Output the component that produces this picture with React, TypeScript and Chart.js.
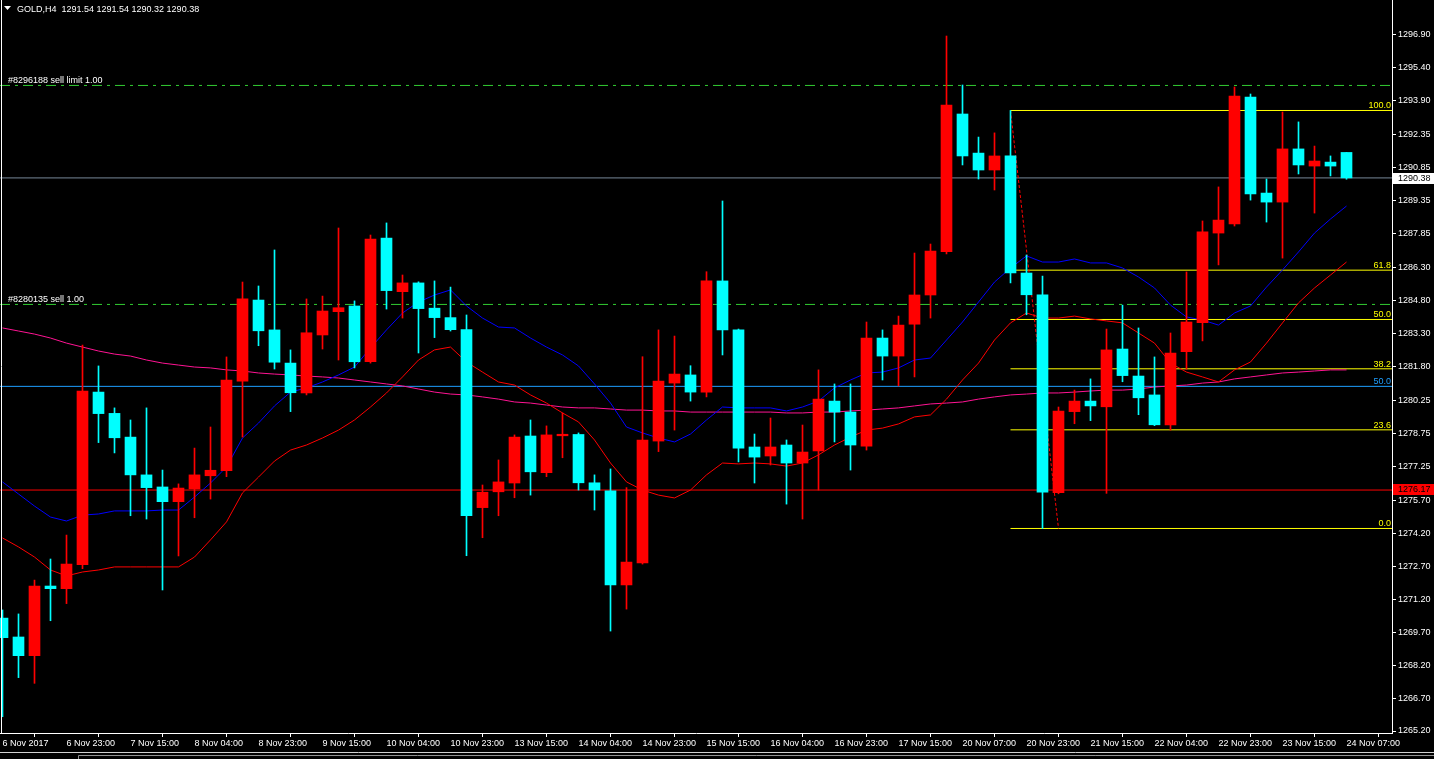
import React, { useEffect, useRef } from 'react';
import { Chart, registerables } from 'chart.js';

Chart.register(...registerables);

const W = 1434;
const H = 759;
const FONT = '"Liberation Sans", Arial, sans-serif';

const headerText = 'GOLD,H4  1291.54 1291.54 1290.32 1290.38';

const xTickLabels = [
  '6 Nov 2017', '6 Nov 23:00', '7 Nov 15:00', '8 Nov 04:00', '8 Nov 23:00', '9 Nov 15:00',
  '10 Nov 04:00', '10 Nov 23:00', '13 Nov 15:00', '14 Nov 04:00', '14 Nov 23:00', '15 Nov 15:00',
  '16 Nov 04:00', '16 Nov 23:00', '17 Nov 15:00', '20 Nov 07:00', '20 Nov 23:00', '21 Nov 15:00',
  '22 Nov 04:00', '22 Nov 23:00', '23 Nov 15:00', '24 Nov 07:00',
];
const barsPerLabel = 4;

const yTickValues = [
  1296.90, 1295.40, 1293.90, 1292.35, 1290.85, 1289.35, 1287.85, 1286.30, 1284.80, 1283.30, 1281.80,
  1280.25, 1278.75, 1277.25, 1275.70, 1274.20, 1272.70, 1271.20, 1269.70, 1268.20, 1266.70, 1265.20,
];

const opens = [
  1270.34, 1269.48, 1268.63, 1271.80, 1271.68, 1272.77, 1280.63, 1279.66, 1278.58, 1276.86,
  1276.31, 1275.64, 1276.22, 1276.82, 1277.05, 1281.13, 1284.82, 1283.46, 1281.95, 1280.59,
  1283.23, 1284.29, 1284.55, 1282.01, 1287.64, 1285.20, 1285.60, 1284.45, 1284.02, 1283.47,
  1275.37, 1276.09, 1276.49, 1278.63, 1276.96, 1278.64, 1278.70, 1276.50, 1276.13, 1271.85,
  1272.85, 1278.40, 1281.04, 1281.41, 1280.63, 1285.69, 1283.46, 1278.13, 1277.72, 1278.22,
  1277.40, 1277.95, 1280.22, 1279.72, 1278.17, 1283.09, 1282.27, 1283.72, 1285.05, 1287.02,
  1293.29, 1291.51, 1290.74, 1291.38, 1286.05, 1285.06, 1276.05, 1279.74, 1280.22, 1279.96,
  1282.59, 1281.36, 1280.50, 1279.14, 1282.47, 1283.79, 1287.87, 1288.28, 1294.06, 1289.69,
  1289.28, 1291.70, 1290.92, 1291.10, 1291.54,
];
const highs = [
  1270.71, 1270.53, 1272.07, 1273.03, 1274.12, 1282.77, 1281.82, 1279.91, 1279.36, 1279.91,
  1277.08, 1276.45, 1278.08, 1279.04, 1282.23, 1285.64, 1285.46, 1287.10, 1282.55, 1284.87,
  1285.00, 1288.10, 1284.78, 1287.78, 1288.33, 1285.96, 1285.65, 1285.69, 1285.41, 1284.14,
  1276.40, 1277.54, 1278.68, 1279.36, 1279.09, 1279.68, 1278.77, 1276.86, 1277.13, 1276.28,
  1282.24, 1283.46, 1283.18, 1281.83, 1286.11, 1289.33, 1283.50, 1278.72, 1279.45, 1278.45,
  1279.13, 1281.64, 1281.00, 1281.00, 1283.82, 1283.46, 1284.09, 1286.96, 1287.37, 1296.84,
  1294.61, 1292.24, 1292.43, 1293.45, 1286.87, 1285.91, 1279.95, 1280.72, 1281.23, 1283.50,
  1284.59, 1283.55, 1282.23, 1283.32, 1286.10, 1288.42, 1289.97, 1294.52, 1294.20, 1290.33,
  1293.38, 1292.93, 1291.83, 1291.38, 1291.54,
];
const lows = [
  1265.85, 1267.63, 1267.37, 1270.22, 1271.00, 1272.59, 1278.33, 1277.86, 1275.00, 1274.85,
  1271.62, 1273.17, 1274.91, 1275.76, 1276.78, 1278.58, 1282.74, 1281.68, 1279.74, 1280.50,
  1282.59, 1282.09, 1281.73, 1281.95, 1284.41, 1284.00, 1282.41, 1283.11, 1283.41, 1273.18,
  1274.00, 1275.00, 1275.82, 1275.94, 1276.78, 1277.64, 1276.17, 1275.26, 1269.75, 1270.75,
  1272.80, 1277.92, 1278.90, 1280.22, 1280.41, 1282.32, 1277.45, 1276.49, 1277.31, 1275.53,
  1274.85, 1276.17, 1278.36, 1277.08, 1277.99, 1281.18, 1280.91, 1281.32, 1284.00, 1286.92,
  1290.97, 1290.33, 1289.83, 1285.60, 1284.15, 1274.42, 1276.00, 1279.19, 1279.33, 1276.02,
  1281.10, 1279.60, 1279.10, 1278.90, 1281.67, 1282.96, 1286.42, 1288.19, 1289.37, 1288.37,
  1286.73, 1290.56, 1288.78, 1290.47, 1290.32,
];
const closes = [
  1269.45, 1268.63, 1271.80, 1271.68, 1272.80, 1280.68, 1279.65, 1278.55, 1276.86, 1276.28,
  1275.64, 1276.26, 1276.86, 1277.07, 1281.18, 1284.87, 1283.42, 1281.99, 1280.60, 1283.33,
  1284.32, 1284.47, 1282.01, 1287.60, 1285.25, 1285.60, 1284.43, 1284.02, 1283.47, 1275.00,
  1276.07, 1276.54, 1278.58, 1277.00, 1278.68, 1278.71, 1276.50, 1276.17, 1271.85, 1272.89,
  1278.45, 1281.13, 1281.45, 1280.63, 1285.69, 1283.46, 1278.08, 1277.67, 1278.13, 1277.40,
  1277.90, 1280.31, 1279.72, 1278.22, 1283.09, 1282.27, 1283.68, 1285.05, 1287.05, 1293.70,
  1291.38, 1290.74, 1291.38, 1286.05, 1285.06, 1276.07, 1279.77, 1280.22, 1280.00, 1282.55,
  1281.38, 1280.37, 1279.14, 1282.41, 1283.82, 1287.92, 1288.46, 1294.11, 1289.65, 1289.28,
  1291.70, 1290.97, 1291.15, 1290.92, 1290.38,
];

const maFast = [
  1276.54, 1275.99, 1275.44, 1274.94, 1274.76, 1275.03, 1275.08, 1275.22, 1275.22, 1275.22,
  1275.26, 1275.26, 1275.85, 1276.49, 1277.22, 1278.54, 1279.22, 1280.00, 1280.63, 1280.82,
  1281.09, 1281.41, 1281.77, 1282.64, 1283.46, 1284.23, 1284.73, 1285.05, 1285.28, 1284.55,
  1284.00, 1283.59, 1283.55, 1283.09, 1282.68, 1282.32, 1281.82, 1281.00, 1280.13, 1279.04,
  1278.77, 1278.54, 1278.36, 1278.72, 1279.36, 1279.95, 1279.91, 1279.91, 1279.91, 1279.77,
  1279.95, 1280.22, 1280.82, 1281.18, 1281.50, 1281.54, 1281.73, 1282.09, 1282.18, 1283.00,
  1283.82, 1284.73, 1285.64, 1286.28, 1286.83, 1286.55, 1286.55, 1286.69, 1286.51, 1286.51,
  1286.28, 1285.87, 1285.37, 1284.59, 1284.05, 1283.91, 1283.68, 1284.23, 1284.55, 1285.41,
  1286.19, 1287.01, 1287.87, 1288.51, 1289.10,
];
const maMid = [
  1273.99, 1273.58, 1273.12, 1272.53, 1272.26, 1272.44, 1272.53, 1272.67, 1272.67, 1272.67,
  1272.67, 1272.67, 1273.12, 1273.90, 1274.72, 1276.04, 1276.76, 1277.49, 1277.99, 1278.22,
  1278.54, 1278.90, 1279.36, 1279.95, 1280.59, 1281.32, 1282.09, 1282.55, 1282.68, 1282.00,
  1281.54, 1281.09, 1280.95, 1280.50, 1280.13, 1279.68, 1279.27, 1278.45, 1277.40, 1276.54,
  1276.17, 1275.94, 1275.81, 1276.17, 1276.86, 1277.40, 1277.36, 1277.40, 1277.36, 1277.26,
  1277.40, 1277.77, 1278.22, 1278.58, 1278.90, 1278.99, 1279.18, 1279.50, 1279.59, 1280.31,
  1281.18, 1281.95, 1283.00, 1283.78, 1284.23, 1284.00, 1284.00, 1284.09, 1283.96, 1283.87,
  1283.78, 1283.32, 1282.86, 1281.95, 1281.54, 1281.32, 1281.09, 1281.64, 1282.00, 1282.86,
  1283.78, 1284.69, 1285.37, 1285.96, 1286.55,
];
const maSlow = [
  1283.55, 1283.41, 1283.27, 1283.09, 1282.86, 1282.68, 1282.50, 1282.36, 1282.27, 1282.09,
  1281.95, 1281.86, 1281.77, 1281.73, 1281.64, 1281.59, 1281.50, 1281.45, 1281.41, 1281.36,
  1281.32, 1281.27, 1281.18, 1281.09, 1281.00, 1280.91, 1280.77, 1280.63, 1280.54, 1280.50,
  1280.41, 1280.31, 1280.18, 1280.13, 1280.04, 1279.95, 1279.91, 1279.91, 1279.86, 1279.81,
  1279.81, 1279.77, 1279.77, 1279.72, 1279.72, 1279.72, 1279.72, 1279.72, 1279.72, 1279.68,
  1279.68, 1279.72, 1279.72, 1279.77, 1279.81, 1279.86, 1279.91, 1280.00, 1280.09, 1280.13,
  1280.18, 1280.31, 1280.41, 1280.50, 1280.54, 1280.59, 1280.59, 1280.63, 1280.68, 1280.72,
  1280.72, 1280.77, 1280.86, 1280.91, 1280.95, 1281.04, 1281.09, 1281.23, 1281.32, 1281.41,
  1281.50, 1281.54, 1281.59, 1281.64, 1281.64,
];

const orderLabels = ['#8296188 sell limit 1.00', '#8280135 sell 1.00'];
const orderPrices = [1294.59, 1284.62];

const fibLabels = ['100.0', '61.8', '50.0', '38.2', '23.6', '0.0'];
const fibRatios = [1, 0.618, 0.5, 0.382, 0.236, 0];
const fibHigh = 1293.45;
const fibLow = 1274.42;
const fibStartBar = 63;
const fibEndBar = 66;

const extraLevelLabel = '50.0';
const extraLevelPrice = 1280.89;
const alertLinePrice = 1276.17;
const bidPrice = 1290.38;

const X_MIN = -0.15625;
const X_MAX = 86.84375;
const Y_MIN = 1265.109;
const Y_MAX = 1298.48;

const C_UP = '#ff0000';
const C_DOWN = '#00ffff';
const C_ORDER = '#32cd32';
const C_FIB = '#ffff00';
const C_LEVEL = '#1e9fff';
const C_BID = '#778899';

const fibPrice = (k: number) => fibLow + fibRatios[k] * (fibHigh - fibLow);

const hLine = (price: number, color: string, from = X_MIN, dash: number[] = []) => ({
  type: 'line' as const,
  data: [{ x: from, y: price }, { x: X_MAX, y: price }],
  borderColor: color,
  borderWidth: 1,
  borderDash: dash,
  pointRadius: 0,
  order: 4,
});

const decorPlugin = {
  id: 'mt4Decor',
  beforeDraw(chart: any) {
    const { ctx } = chart;
    ctx.save();
    ctx.fillStyle = '#000';
    ctx.fillRect(0, 0, chart.width, chart.height);
    ctx.restore();
  },
  afterDraw(chart: any) {
    const { ctx, chartArea: a, scales } = chart;
    const y = scales.y;
    ctx.save();
    ctx.strokeStyle = '#fff';
    ctx.lineWidth = 1;
    ctx.beginPath();
    ctx.moveTo(a.left + 1.5, a.top);
    ctx.lineTo(a.left + 1.5, a.bottom);
    ctx.stroke();

    // bottom strip
    ctx.strokeStyle = '#d0d0d0';
    ctx.beginPath();
    ctx.moveTo(0, 752.5);
    ctx.lineTo(W, 752.5);
    ctx.stroke();
    ctx.strokeStyle = '#909090';
    ctx.beginPath();
    ctx.moveTo(78.5, 759);
    ctx.lineTo(78.5, 755.5);
    ctx.lineTo(W, 755.5);
    ctx.stroke();

    ctx.font = `9px ${FONT}`;
    ctx.textBaseline = 'alphabetic';
    ctx.textAlign = 'left';

    // header
    ctx.fillStyle = '#fff';
    ctx.beginPath();
    ctx.moveTo(4, 6);
    ctx.lineTo(11, 6);
    ctx.lineTo(7.5, 10);
    ctx.closePath();
    ctx.fill();
    ctx.fillText(headerText, 17, 11.5);

    // order labels
    orderLabels.forEach((t, k) => {
      const py = y.getPixelForValue(orderPrices[k]);
      ctx.fillText(t, 8, py - 2);
    });

    // fib labels
    ctx.textAlign = 'right';
    ctx.fillStyle = C_FIB;
    fibLabels.forEach((t, k) => {
      const py = y.getPixelForValue(fibPrice(k));
      ctx.fillText(t, a.right - 1, py - 2);
    });
    ctx.fillStyle = C_LEVEL;
    ctx.fillText(extraLevelLabel, a.right - 1, y.getPixelForValue(extraLevelPrice) - 2);

    // price boxes on axis
    ctx.textAlign = 'left';
    ctx.textBaseline = 'middle';
    const bidY = Math.round(y.getPixelForValue(bidPrice));
    ctx.fillStyle = '#fff';
    ctx.fillRect(a.right + 1, bidY - 5, W - a.right - 1, 11);
    ctx.fillStyle = '#000';
    ctx.fillText(bidPrice.toFixed(2), a.right + 6, bidY + 0.5);
    const alY = Math.round(y.getPixelForValue(alertLinePrice));
    ctx.fillStyle = '#ff0000';
    ctx.fillRect(a.right + 1, alY - 6, W - a.right - 1, 11);
    ctx.fillStyle = '#000';
    ctx.fillText(alertLinePrice.toFixed(2), a.right + 6, alY - 0.5);
    ctx.restore();
  },
};

export default function App() {
  const ref = useRef<HTMLCanvasElement>(null);

  useEffect(() => {
    document.body.style.margin = '0';
    document.body.style.background = '#000';
    const idx = opens.map((_, i) => i);
    const colors = idx.map((i) => (closes[i] >= opens[i] ? C_UP : C_DOWN));
    const xTickIdx = xTickLabels.map((_, k) => k * barsPerLabel);

    const datasets: any[] = [
      {
        type: 'bar',
        data: idx.map((i) => ({ x: i, y: [Math.min(opens[i], closes[i]), Math.max(opens[i], closes[i])] })),
        backgroundColor: colors,
        borderWidth: 0,
        grouped: false,
        barThickness: 11,
        maxBarThickness: 11,
        minBarLength: 1,
        order: 0,
      },
      {
        type: 'bar',
        data: idx.map((i) => ({ x: i, y: [lows[i], highs[i]] })),
        backgroundColor: colors,
        borderWidth: 0,
        grouped: false,
        barThickness: 1,
        maxBarThickness: 1,
        minBarLength: 1,
        order: 1,
      },
      { type: 'line', data: idx.map((i) => ({ x: i, y: maFast[i] })), borderColor: '#0000ff', borderWidth: 1, pointRadius: 0, order: 2 },
      { type: 'line', data: idx.map((i) => ({ x: i, y: maMid[i] })), borderColor: '#ff0000', borderWidth: 1, pointRadius: 0, order: 2 },
      { type: 'line', data: idx.map((i) => ({ x: i, y: maSlow[i] })), borderColor: '#ff1493', borderWidth: 1, pointRadius: 0, order: 2 },
      hLine(bidPrice, C_BID),
      hLine(alertLinePrice, '#ff0000'),
      hLine(extraLevelPrice, C_LEVEL),
      ...orderPrices.map((p) => hLine(p, C_ORDER, X_MIN, [10, 5, 3, 5])),
      ...fibRatios.map((_, k) => hLine(fibPrice(k), C_FIB, fibStartBar)),
      {
        type: 'line',
        data: [{ x: fibStartBar, y: fibHigh }, { x: fibEndBar, y: fibLow }],
        borderColor: '#ff0000',
        borderWidth: 1,
        borderDash: [3, 2],
        pointRadius: 0,
        order: 3,
      },
    ];

    const chart = new Chart(ref.current as HTMLCanvasElement, {
      type: 'bar',
      data: { datasets },
      options: {
        animation: false,
        responsive: false,
        devicePixelRatio: 1,
        events: [],
        layout: { padding: 0 },
        plugins: { legend: { display: false }, tooltip: { enabled: false } },
        scales: {
          x: {
            type: 'linear',
            min: X_MIN,
            max: X_MAX,
            offset: false,
            position: 'bottom',
            grid: { display: true, drawOnChartArea: false, drawTicks: true, tickLength: 4, color: '#fff', tickColor: '#fff' },
            border: { display: true, color: '#fff', width: 1 },
            ticks: {
              autoSkip: false,
              maxRotation: 0,
              minRotation: 0,
              align: 'start',
              padding: 1,
              color: '#fff',
              font: { family: FONT, size: 9 },
              callback: (_v: any, i: number) => xTickLabels[i],
            },
            afterBuildTicks: (s: any) => {
              s.ticks = xTickIdx.map((v) => ({ value: v }));
            },
            afterFit: (s: any) => {
              s.height = 26;
              s.paddingLeft = 0;
              s.paddingRight = 0;
            },
          },
          y: {
            type: 'linear',
            position: 'right',
            min: Y_MIN,
            max: Y_MAX,
            grid: { display: true, drawOnChartArea: false, drawTicks: true, tickLength: 4, color: '#fff', tickColor: '#fff' },
            border: { display: true, color: '#fff', width: 1 },
            ticks: {
              padding: 2,
              color: '#fff',
              font: { family: FONT, size: 9 },
              callback: (v: any) => Number(v).toFixed(2),
            },
            afterBuildTicks: (s: any) => {
              s.ticks = yTickValues.map((v) => ({ value: v }));
            },
            afterFit: (s: any) => {
              s.width = 42;
              s.paddingTop = 0;
              s.paddingBottom = 0;
            },
          },
        },
      } as any,
      plugins: [decorPlugin],
    });
    return () => chart.destroy();
  }, []);

  return (
    <div style={{ position: 'fixed', left: 0, top: 0, width: W, height: H, background: '#000' }}>
      <canvas ref={ref} width={W} height={H} style={{ display: 'block', width: W, height: H }} />
    </div>
  );
}
